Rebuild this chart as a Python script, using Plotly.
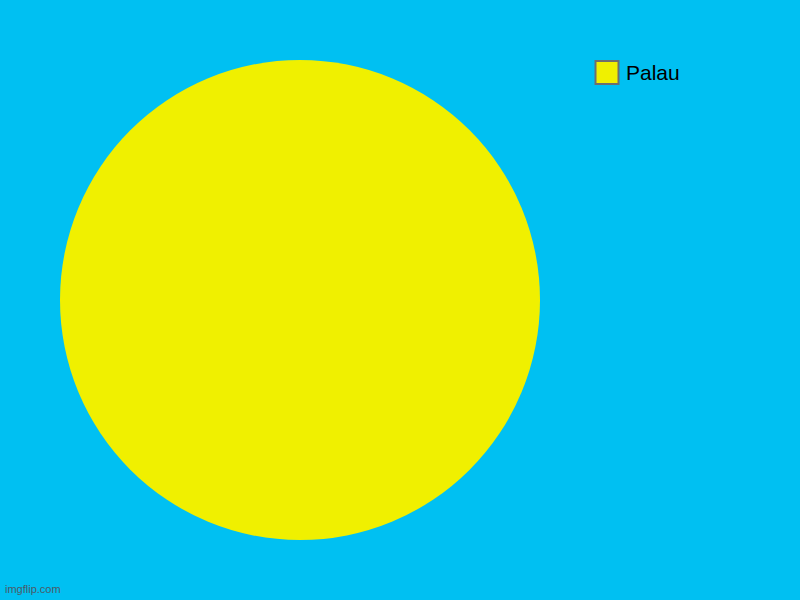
import plotly.graph_objects as go

labels = ["Palau"]
values = [1]
colors = ["#F0F000"]

bg = "#00C0F2"

fig = go.Figure()
fig.add_trace(go.Pie(
    labels=labels,
    values=values,
    marker=dict(colors=colors, line=dict(width=0)),
    textinfo="none",
    hoverinfo="label+percent",
    sort=False,
    showlegend=False,
    domain=dict(x=[60 / 800, 540 / 800], y=[60 / 600, 540 / 600]),
))

# legend drawn by hand so the swatch is the same size as the original
for i, (lab, col) in enumerate(zip(labels, colors)):
    y0 = 1 - (61 + i * 30) / 600
    y1 = 1 - (84 + i * 30) / 600
    fig.add_shape(type="rect", xref="paper", yref="paper",
                  x0=595.5 / 800, x1=618.5 / 800, y0=y1, y1=y0,
                  fillcolor=col, line=dict(color="#6E6E6E", width=2))
    fig.add_annotation(text=lab, xref="paper", yref="paper",
                       x=624 / 800, y=(y0 + y1) / 2, xanchor="left", yanchor="middle",
                       showarrow=False, font=dict(family="Liberation Sans, Arial", size=21, color="#000000"))

fig.add_annotation(text="imgflip.com", xref="paper", yref="paper",
                   x=3 / 800, y=3 / 600, xanchor="left", yanchor="bottom",
                   showarrow=False, font=dict(family="Liberation Sans, Arial", size=11, color="#4A5A66"))

fig.update_layout(
    width=800, height=600,
    margin=dict(l=0, r=0, t=0, b=0),
    paper_bgcolor=bg, plot_bgcolor=bg,
)

# drop the page's default body margin so the chart fills the window
fig.write_html("out.html", config={"displayModeBar": False},
               post_script="document.body.style.margin='0';document.body.style.overflow='hidden';")
